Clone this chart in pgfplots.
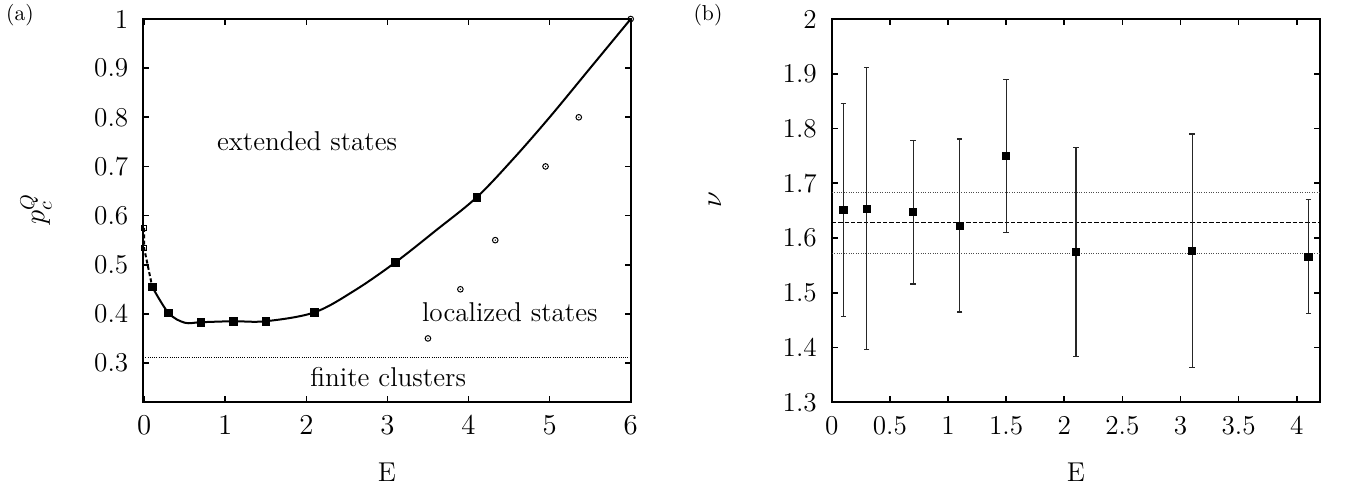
\documentclass[border=0pt]{standalone}
\usepackage{pgfplots}
\pgfplotsset{compat=1.18}
\usepackage{pgfplotstable}

% open circle with a dot in the middle
\pgfdeclareplotmark{odot}{%
  \pgfpathcircle{\pgfpointorigin}{\pgfplotmarksize}\pgfusepathqstroke
  \pgfpathcircle{\pgfpointorigin}{0.35pt}\pgfusepathqfill}

\pgfplotstableread{
E p
0.1 0.455
0.3 0.402
0.7 0.383
1.1 0.385
1.5 0.385
2.1 0.403
3.1 0.505
4.1 0.637
}\filled

% points
\pgfplotstableread{
E p
0.1 0.455
0.3 0.402
0.5 0.382
0.7 0.383
1.1 0.385
1.5 0.385
2.1 0.403
2.6 0.448
3.1 0.505
3.6 0.570
4.1 0.637
4.55 0.715
5.0 0.800
5.5 0.900
6.0 1.000
}\curve

\pgfplotstableread{
E p
3.50 0.35
3.90 0.45
4.33 0.55
4.95 0.70
5.36 0.80
6.00 1.00
}\circles

\pgfplotstableread{
E nu up down
0.1 1.651 0.194 0.195
0.3 1.653 0.258 0.257
0.7 1.648 0.130 0.132
1.1 1.622 0.159 0.157
1.5 1.750 0.139 0.140
2.1 1.575 0.190 0.192
3.1 1.577 0.213 0.214
4.1 1.566 0.105 0.104
}\nuvals

\newcommand{\lblfont}{\fontsize{13.6}{16}\selectfont}

\begin{document}
\begin{tikzpicture}[x=1pt,y=1pt]
\path[use as bounding box] (-71.65,-43.35) rectangle (600.85,201.15);

\pgfplotsset{panel/.style={
  scale only axis,
  height=191.65pt,
  clip=false,
  axis line style={line width=0.9pt},
  major tick style={line width=0.8pt, black},
  major tick length=3pt,
  tick align=inside,
  ticklabel style={font=\lblfont},
  yticklabel style={xshift=-4pt},
  xticklabel style={yshift=-3.5pt},
}}

\begin{axis}[panel,
  at={(0pt,0pt)}, anchor=south west,
  width=243.7pt,
  xmin=-0.01, xmax=6,
  ymin=0.22, ymax=1,
  xtick={0,1,2,3,4,5,6},
  ytick={0.3,0.4,0.5,0.6,0.7,0.8,0.9,1},
  yticklabels={0.3,0.4,0.5,0.6,0.7,0.8,0.9,1},
]
\addplot[black, line width=0.6pt, dash pattern=on 0.5pt off 0.6pt]
  coordinates {(-0.01,0.3116)(6,0.3116)};
\addplot[black, line width=1pt, dash pattern=on 2pt off 1.2pt]
  coordinates {(0,0.575)(0,0.534)(0.1,0.455)};
\addplot[black, line width=1pt, smooth, tension=0.55] table[x=E,y=p] {\curve};
\addplot[black, only marks, mark=square*, mark size=1.85pt] table[x=E,y=p] {\filled};
\addplot[black, only marks, mark=square, mark size=1.2pt, mark options={line width=0.5pt, fill=white}]
  coordinates {(0,0.575)(0,0.534)};
\addplot[black, only marks, mark=odot, mark size=1.4pt, mark options={line width=0.5pt}]
  table[x=E,y=p] {\circles};
\node[font=\lblfont] at (axis cs:2.01,0.752) {extended states};
\node[font=\lblfont] at (axis cs:4.51,0.404) {localized states};
\node[font=\lblfont] at (axis cs:3.01,0.272) {finite clusters};
\end{axis}

\begin{axis}[panel,
  at={(344.25pt,0pt)}, anchor=south west,
  width=244.1pt,
  xmin=0, xmax=4.2,
  ymin=1.3, ymax=2,
  xtick={0,0.5,1,1.5,2,2.5,3,3.5,4},
  xticklabels={0,0.5,1,1.5,2,2.5,3,3.5,4},
  ytick={1.3,1.4,1.5,1.6,1.7,1.8,1.9,2},
  yticklabels={1.3,1.4,1.5,1.6,1.7,1.8,1.9,2},
]
\addplot[black!70, line width=0.5pt, dash pattern=on 0.5pt off 0.7pt]
  coordinates {(0,1.683)(4.2,1.683)};
\addplot[black!70, line width=0.5pt, dash pattern=on 0.5pt off 0.7pt]
  coordinates {(0,1.571)(4.2,1.571)};
\addplot[black, line width=0.6pt, dash pattern=on 2.2pt off 1pt]
  coordinates {(0,1.628)(4.2,1.628)};
\addplot[black, only marks, mark=square*, mark size=1.85pt,
  error bars/.cd, y dir=both, y explicit,
  error bar style={black!85, line width=0.6pt},
  error mark options={rotate=90, black!85, line width=0.6pt, mark size=1.4pt}]
  table[x=E, y=nu, y error plus=up, y error minus=down] {\nuvals};
\end{axis}

\node[font=\fontsize{10.8}{13}\selectfont] at (-61.65,193.65) {(a)};
\node[font=\fontsize{10.8}{13}\selectfont] at (282.35,193.65) {(b)};
\node[font=\lblfont, rotate=90] at (-53.65,96.65) {$p_c^Q$};
\node[font=\lblfont, rotate=90] at (285.85,101.15) {$\nu$};
\node[font=\lblfont] at (121.85,-34.85) {E};
\node[font=\lblfont] at (466.35,-34.85) {E};
\end{tikzpicture}
\end{document}
